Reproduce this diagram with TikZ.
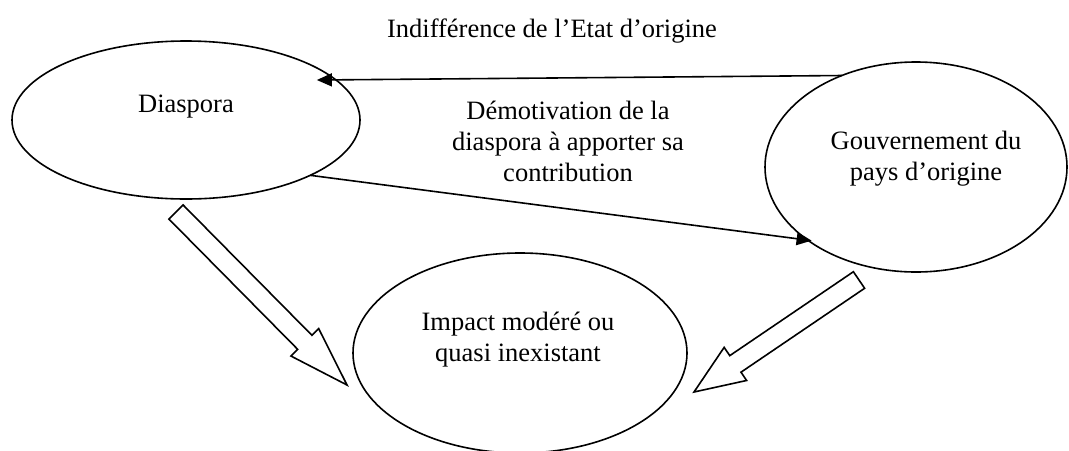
\documentclass[tikz,border=0pt]{standalone}
\usepackage{fontspec}
\setmainfont{Liberation Serif}
\usepackage{tikz}
\usetikzlibrary{shapes.geometric, arrows.meta, calc}
\tikzstyle{bubble} = [draw, thick, ellipse, inner sep=0pt, outer sep=0pt]
\tikzstyle{arrow} = [thick,-{Triangle[length=7.5pt,width=6.5pt]}]
\tikzstyle{hollow} = [draw, thick, fill=white, line join=miter]

% big open arrow: tail, tip, head length, half width of the head
\newcommand{\hollowarrow}[4]{%
	\coordinate (hb) at ($(#2)!#3!(#1)$);
	\draw[hollow] ($(#1)!5pt!90:(#2)$) -- ($(hb)!5pt!90:(#2)$) -- ($(hb)!#4!90:(#2)$) -- (#2)
		-- ($(hb)!#4!-90:(#2)$) -- ($(hb)!5pt!-90:(#2)$) -- ($(#1)!5pt!-90:(#2)$) -- cycle;
}

\begin{document}
\begin{tikzpicture}[x=0.5pt,y=-0.5pt,font=\fontsize{13.25}{15.5}\selectfont]
	\useasboundingbox (0,0) rectangle (1069,450);
	
	% Ellipses:
	% drawn empty, the texts are put on top of them
	\node[bubble, minimum width=174pt, minimum height=79pt] (dia) at (186,120) {};
	\node[bubble, minimum width=151pt, minimum height=105pt] (gov) at (916,167) {};
	\node[bubble, minimum width=167pt, minimum height=100pt] (imp) at (520,353) {};
	
	\node (diatxt) at (186,107) {Diaspora};
	\node[align=center] (govtxt) at (926,159) {Gouvernement du\\pays d'origine};
	\node[align=center] (imptxt) at (518,340) {Impact modéré ou\\quasi inexistant};
	
	% Arrows between the ellipses and their labels:
	\draw[arrow, shorten >=-9.5pt] (gov.129.7) -- (dia.15.9);
	\node (indiff) at (552,31) {Indifférence de l'Etat d'origine};
	
	\draw[arrow, shorten >=-2pt] (dia.-24.7) -- (gov.214.6);
	\node[align=center] (demot) at (568,141) {Démotivation de la\\diaspora à apporter sa\\contribution};
	
	% Open arrows towards the impact:
	\coordinate (dtail) at (176,212);
	\coordinate (dtip) at (347,385);
	\coordinate (gtail) at (859,280);
	\coordinate (gtip) at (694,392);
	\hollowarrow{dtail}{dtip}{30pt}{9.75pt}
	\hollowarrow{gtail}{gtip}{25pt}{10pt}
	
\end{tikzpicture}
\end{document}
